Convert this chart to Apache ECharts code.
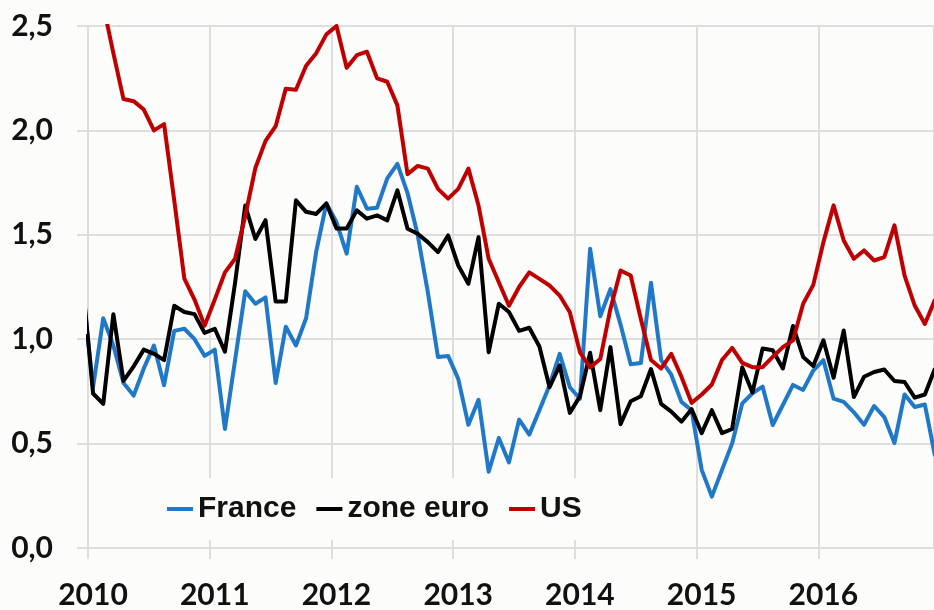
<!DOCTYPE html>
<html>
<head>
<meta charset="utf-8">
<script src="https://cdn.jsdelivr.net/npm/echarts@6/dist/echarts.min.js"></script>
<style>
  html, body { margin: 0; padding: 0; background: #fcfcfa; }
  #chart { width: 934px; height: 610px; }
</style>
</head>
<body>
<div id="chart"></div>
<script>
// Monthly observations, Dec 2009 .. Dec 2016 (first value lies just left of the plot)
const months = (function () {
  const m = ['2009-12'];
  for (let y = 2010; y <= 2016; y++) for (let k = 1; k <= 12; k++) m.push(y + '-' + String(k).padStart(2, '0'));
  return m;
})();

const yearLabels = ['2010', '2011', '2012', '2013', '2014', '2015', '2016'];

const france = [1.23,
  0.77, 1.10, 0.97, 0.79, 0.73, 0.86, 0.97, 0.78, 1.04, 1.05, 1.00, 0.92,
  0.95, 0.57, 0.90, 1.23, 1.17, 1.20, 0.79, 1.06, 0.97, 1.10, 1.42, 1.65,
  1.56, 1.41, 1.73, 1.625, 1.63, 1.77, 1.84, 1.70, 1.50, 1.225, 0.915, 0.92,
  0.81, 0.59, 0.71, 0.365, 0.527, 0.41, 0.615, 0.543, 0.66, 0.78, 0.93, 0.77,
  0.715, 1.433, 1.11, 1.24, 1.07, 0.88, 0.886, 1.27, 0.90, 0.83, 0.70, 0.66,
  0.374, 0.246, 0.374, 0.501, 0.693, 0.741, 0.773, 0.589, 0.685, 0.781, 0.757, 0.85,
  0.90, 0.715, 0.70, 0.65, 0.59, 0.68, 0.627, 0.503, 0.735, 0.675, 0.687, 0.44];

const zoneEuro = [1.26,
  0.74, 0.69, 1.12, 0.80, 0.87, 0.95, 0.93, 0.90, 1.16, 1.13, 1.12, 1.03,
  1.05, 0.94, 1.27, 1.64, 1.48, 1.57, 1.18, 1.18, 1.665, 1.61, 1.60, 1.65,
  1.53, 1.53, 1.617, 1.577, 1.593, 1.569, 1.713, 1.529, 1.505, 1.465, 1.417, 1.497,
  1.353, 1.265, 1.489, 0.937, 1.17, 1.13, 1.04, 1.055, 0.965, 0.77, 0.875, 0.647,
  0.727, 0.935, 0.66, 0.962, 0.593, 0.703, 0.727, 0.857, 0.69, 0.653, 0.605, 0.665,
  0.55, 0.66, 0.55, 0.57, 0.865, 0.745, 0.955, 0.947, 0.86, 1.063, 0.915, 0.872,
  0.995, 0.815, 1.042, 0.723, 0.82, 0.843, 0.855, 0.80, 0.795, 0.72, 0.735, 0.86];

const us = [2.80,
  2.72, 2.60, 2.37, 2.15, 2.14, 2.10, 2.00, 2.03, 1.665, 1.29, 1.19, 1.065,
  1.19, 1.32, 1.385, 1.59, 1.82, 1.95, 2.02, 2.20, 2.195, 2.31, 2.37, 2.46,
  2.50, 2.30, 2.36, 2.377, 2.249, 2.233, 2.12, 1.79, 1.83, 1.817, 1.72, 1.673,
  1.72, 1.817, 1.64, 1.385, 1.273, 1.16, 1.25, 1.32, 1.289, 1.257, 1.209, 1.129,
  0.937, 0.865, 0.905, 1.145, 1.329, 1.305, 1.097, 0.90, 0.86, 0.93, 0.82, 0.695,
  0.735, 0.783, 0.90, 0.958, 0.887, 0.866, 0.866, 0.915, 0.962, 0.994, 1.17, 1.26,
  1.465, 1.641, 1.473, 1.385, 1.425, 1.377, 1.393, 1.545, 1.305, 1.161, 1.073, 1.19];

const seriesNames = ['France', 'zone euro', 'US'];
const seriesColors = ['#1f78c8', '#000000', '#c00000'];

// x position of a month (in months since Jan 2010, mid-month)
function monthPos(label) {
  const p = label.split('-');
  return (parseInt(p[0], 10) - 2010) * 12 + (parseInt(p[1], 10) - 1) + 0.5;
}
function pairs(values) { return values.map((v, i) => [monthPos(months[i]), v]); }

const FONT = 'Lato, "Liberation Sans", Arial, sans-serif';
const LEGEND_FONT = '"Liberation Sans", Arial, sans-serif';
const GRID = '#dedede';
const BG = '#fcfcfa';

const chart = echarts.init(document.getElementById('chart'), null, { renderer: 'canvas' });
chart.setOption({
  backgroundColor: BG,
  animation: false,
  grid: { left: 88, right: -2, top: 26, bottom: 62, containLabel: false },
  xAxis: {
    type: 'value', min: 0, max: 83.4, interval: 12,
    axisLine: { show: false },
    axisTick: { show: true, length: 11, lineStyle: { color: GRID, width: 2 } },
    splitLine: { show: true, lineStyle: { color: GRID, width: 2 } },
    axisLabel: {
      margin: 32, fontFamily: FONT, fontWeight: 'bold', fontSize: 30, color: '#111',
      padding: [0, 0, 0, 10], showMaxLabel: false,
      formatter: function (v) {
        const k = Math.round(v);
        return (Math.abs(v - k) < 1e-6 && k % 12 === 0) ? (yearLabels[k / 12] || '') : '';
      }
    }
  },
  yAxis: {
    type: 'value', min: 0, max: 2.5, interval: 0.5,
    axisLine: { show: false },
    axisTick: { show: true, length: 11, lineStyle: { color: GRID, width: 2 } },
    splitLine: { show: true, lineStyle: { color: GRID, width: 2 } },
    axisLabel: {
      margin: 35, fontFamily: FONT, fontWeight: 'bold', fontSize: 30, color: '#111',
      formatter: function (v) { return v.toFixed(1).replace('.', ','); }
    }
  },
  legend: {
    data: seriesNames,
    left: 149, top: 478,
    padding: [14, 18, 14, 18],
    backgroundColor: BG,
    icon: 'rect', itemWidth: 26, itemHeight: 4, itemGap: 20,
    textStyle: { fontFamily: LEGEND_FONT, fontWeight: 'bold', fontSize: 30, color: '#111', lineHeight: 34 }
  },
  // mask the few pixels of line that the series clip lets through left of the plot edge
  graphic: [{
    type: 'rect', z: 100, silent: true,
    shape: { x: 78, y: 280, width: 9, height: 54 },
    style: { fill: BG }
  }],
  series: [france, zoneEuro, us].map((vals, i) => ({
    name: seriesNames[i],
    type: 'line',
    data: pairs(vals),
    showSymbol: false, symbol: 'none',
    clip: true,
    color: seriesColors[i],
    lineStyle: { color: seriesColors[i], width: 4, join: 'round' }
  }))
});
</script>
</body>
</html>
